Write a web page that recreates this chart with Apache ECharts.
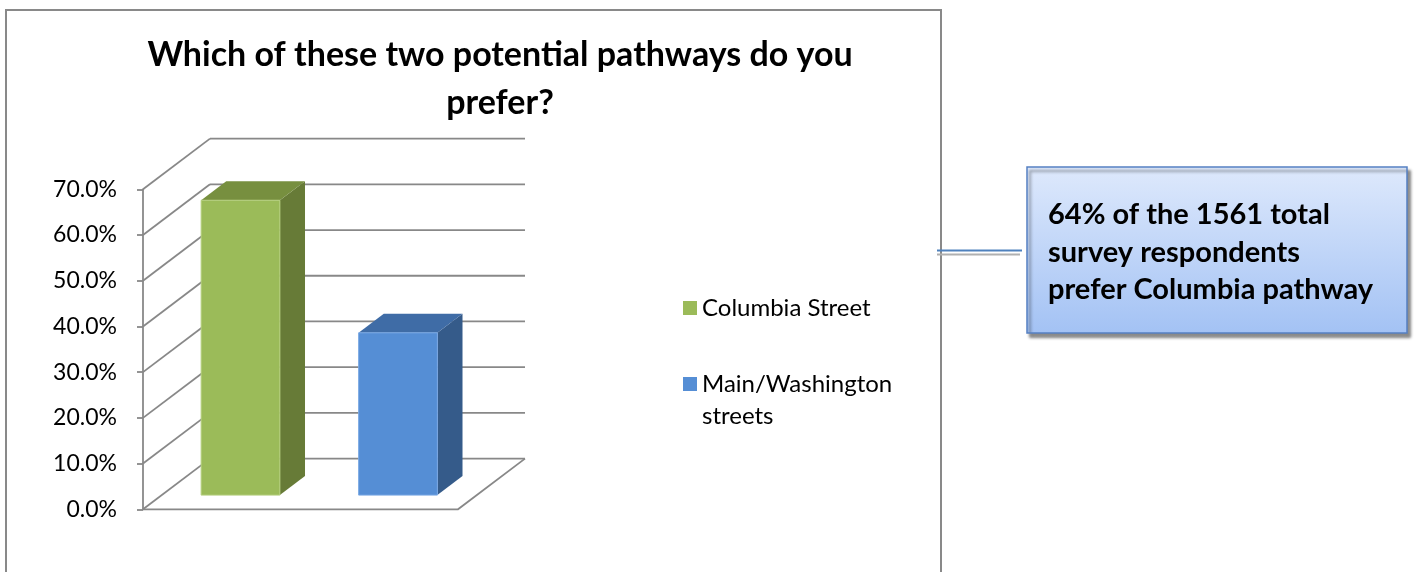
<!DOCTYPE html>
<html><head><meta charset="utf-8">
<script src="https://cdn.jsdelivr.net/npm/echarts@6/dist/echarts.min.js"></script>
<style>html,body{margin:0;padding:0;background:#fff}#c{width:1414px;height:572px}</style>
</head><body><div id="c"></div>
<script>
// ---- data ----
const categories = ['Columbia Street', 'Main/Washington streets'];
const values = [0.645, 0.355];
const yTicks = [0, 0.1, 0.2, 0.3, 0.4, 0.5, 0.6, 0.7];
const titleText = 'Which of these two potential pathways do you\nprefer?';
const calloutText = '64% of the 1561 total\nsurvey respondents\nprefer Columbia pathway';

// ---- style ----
const FONT = 'Lato';
const DX = 67, DY = -50.7;
const F1 = 0.28, F2 = 0.655;
const frontColors = ['#9bbb59', '#558ed5'];
const edgeColors = ['#b5cf7f', '#7aa8e4'];
const sideColors = ['#677b37', '#355b8a'];
const topColors = ['#778f3f', '#3f6ca6'];
const wallColor = '#888888';

function wallItem(params, api) {
  const v = api.value(0);
  const bw = api.size([1, 0])[0];
  const p0 = api.coord([0, v]);
  const x0 = p0[0] - bw / 2;
  const x1 = api.coord([categories.length - 1, v])[0] + bw / 2;
  const y = p0[1];
  const st = { stroke: wallColor, lineWidth: 1.8, fill: null };
  const children = [
    { type: 'line', shape: { x1: x0, y1: y, x2: x0 + DX, y2: y + DY }, style: st },
    { type: 'line', shape: { x1: x0 + DX, y1: y + DY, x2: x1 + DX, y2: y + DY }, style: st }
  ];
  if (v === 0) {
    children.push({ type: 'polyline', shape: { points: [[x0, y], [x1, y], [x1 + DX, y + DY]] }, style: st });
  }
  return { type: 'group', children };
}

function barItem(params, api) {
  const idx = api.value(0), v = api.value(1);
  const bw = api.size([1, 0])[0] * 0.5;
  const base = api.coord([idx, 0]);
  const topP = api.coord([idx, v]);
  const ox = DX * F1, oy = DY * F1, dx = DX * (F2 - F1), dy = DY * (F2 - F1);
  const xl = base[0] - bw / 2 + ox, xr = base[0] + bw / 2 + ox;
  const yb = base[1] + oy, yt = topP[1] + oy;
  return {
    type: 'group',
    children: [
      { type: 'polygon', shape: { points: [[xr, yt], [xr + dx, yt + dy], [xr + dx, yb + dy], [xr, yb]] }, style: { fill: sideColors[idx] } },
      { type: 'polygon', shape: { points: [[xl, yt], [xl + dx, yt + dy], [xr + dx, yt + dy], [xr, yt]] }, style: { fill: topColors[idx] } },
      { type: 'rect', shape: { x: xl, y: yt, width: bw, height: yb - yt }, style: { fill: frontColors[idx], stroke: edgeColors[idx], lineWidth: 1 } }
    ]
  };
}

const series = [{
  type: 'custom', name: 'walls', renderItem: wallItem, silent: true, z: 1,
  data: yTicks.map(v => [v])
}];
categories.forEach((c, i) => {
  series.push({
    type: 'custom', name: c, renderItem: barItem, z: 3,
    itemStyle: { color: frontColors[i] },
    data: [[i, values[i]]]
  });
});

const chart = echarts.init(document.getElementById('c'), null, { renderer: 'canvas' });
chart.setOption({
  animation: false,
  backgroundColor: '#fff',
  title: {
    text: titleText, left: 495, top: 26, textAlign: 'center',
    textStyle: { fontFamily: FONT, fontWeight: 'bold', fontSize: 34, lineHeight: 48, color: '#000' }
  },
  grid: { left: 143, right: 956, top: 189.3, bottom: 62.7 },
  xAxis: { type: 'category', data: categories, axisLine: { show: false }, axisTick: { show: false }, axisLabel: { show: false }, splitLine: { show: false } },
  yAxis: {
    type: 'value', min: 0, max: 0.7, interval: 0.1,
    axisLine: { show: true, lineStyle: { color: wallColor, width: 1.8 } },
    axisTick: { show: true, length: 6, lineStyle: { color: wallColor, width: 1.8 } },
    axisLabel: { formatter: v => (v * 100).toFixed(1) + '%', fontFamily: FONT, fontSize: 23, color: '#000', margin: 26 },
    splitLine: { show: false }
  },
  legend: [{
    data: [categories[0]], orient: 'vertical', left: 683, top: 295, padding: 0,
    itemWidth: 14, itemHeight: 14, icon: 'rect', itemGap: 0,
    textStyle: { fontFamily: FONT, fontSize: 24, color: '#000', lineHeight: 26 }
  }, {
    data: [categories[1]], orient: 'vertical', left: 683, top: 336, padding: 0,
    itemWidth: 14, itemHeight: 14, icon: 'rect', itemGap: 0,
    formatter: () => ' \nMain/Washington\nstreets',
    textStyle: { fontFamily: FONT, fontSize: 24, color: '#000', lineHeight: 32 }
  }],
  graphic: [
    { type: 'rect', shape: { x: 6, y: 10, width: 935, height: 600 }, style: { fill: null, stroke: '#898989', lineWidth: 2 }, z: 0, silent: true },
    { type: 'line', shape: { x1: 937, y1: 254.5, x2: 1020, y2: 254.5 }, style: { stroke: '#b0b0b0', lineWidth: 2 }, z: 5 },
    { type: 'line', shape: { x1: 937, y1: 250.5, x2: 1022, y2: 250.5 }, style: { stroke: '#4f81bd', lineWidth: 2 }, z: 6 },
    {
      type: 'rect', shape: { x: 1027, y: 167, width: 380, height: 166 }, z: 6,
      style: {
        fill: new echarts.graphic.LinearGradient(0, 0, 0, 1, [{ offset: 0, color: '#dee9fc' }, { offset: 1, color: '#a3c2f4' }]),
        stroke: '#5580c2', lineWidth: 1.5,
        shadowBlur: 3, shadowOffsetX: 3, shadowOffsetY: 4, shadowColor: 'rgba(0,0,0,0.45)'
      }
    },
    {
      type: 'text', x: 1048, y: 196, z: 7,
      style: { text: calloutText, font: 'bold 29px ' + FONT, fill: '#000', lineHeight: 37.5, align: 'left', verticalAlign: 'top' }
    }
  ],
  series
});
</script></body></html>
